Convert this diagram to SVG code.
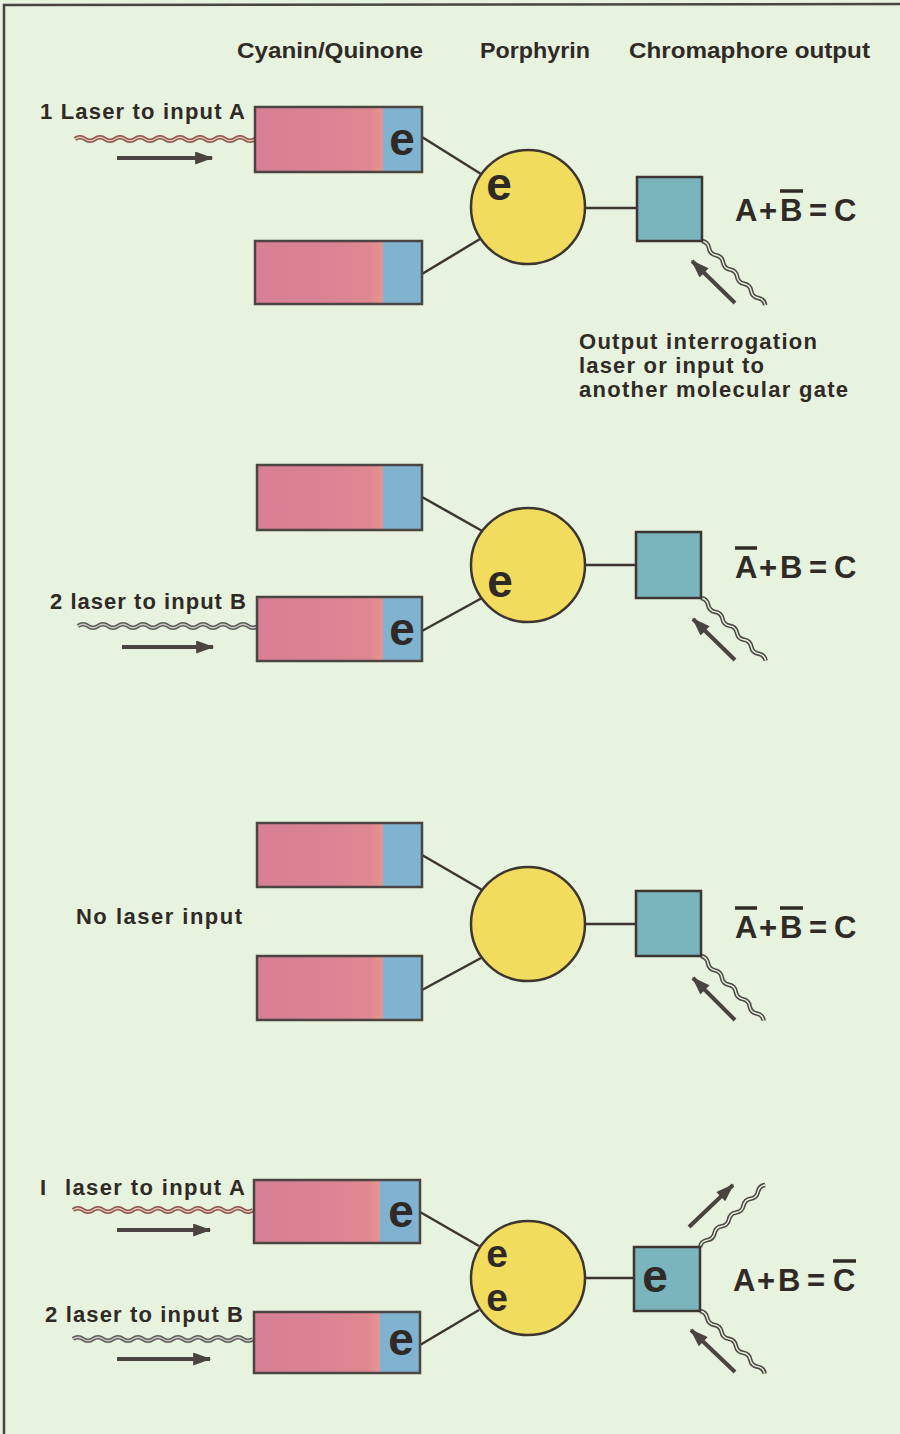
<svg xmlns="http://www.w3.org/2000/svg" xmlns:xlink="http://www.w3.org/1999/xlink" width="900" height="1434" viewBox="0 0 900 1434">
<style>
.t{font-family:"Liberation Sans",Arial,sans-serif;font-weight:bold;fill:#2f2a25}
.hdr{font-size:22px}
.lbl{font-size:22px}
.eq{font-size:31px}
.e{font-size:46px;text-anchor:middle}
.e2{font-size:39px;text-anchor:middle}
.frame{fill:none;stroke:#4a4541;stroke-width:2.5}
.pink{fill:url(#pinkg)}
.blue{fill:#80b3d0}
.circ{fill:#f1dc5e;stroke:#3d3630;stroke-width:2.5}
.sq{fill:#7ab5bd;stroke:#3d3630;stroke-width:2.5}
.ln{stroke:#3d3630;stroke-width:2.5;fill:none}
.arr{stroke:#4a4440;stroke-width:4;fill:none;marker-end:url(#ah)}
.ov{stroke:#2f2a25;stroke-width:3.5}
.wo-red{fill:none;stroke:#8c544b;stroke-width:4.5}
.wi-red{fill:none;stroke:#e3c3b6;stroke-width:1.3}
.wo-grey{fill:none;stroke:#5f5d5a;stroke-width:4.5}
.wi-grey{fill:none;stroke:#c9c9c2;stroke-width:1.3}
.wo-dark{fill:none;stroke:#4d4844;stroke-width:4.5}
.wi-dark{fill:none;stroke:#e7f2df;stroke-width:1.4}
</style>
<defs>
<linearGradient id="pinkg" x1="0" y1="0" x2="1" y2="0">
<stop offset="0" stop-color="#d87f93"/>
<stop offset="0.6" stop-color="#db8394"/>
<stop offset="0.9" stop-color="#e08891"/>
<stop offset="1" stop-color="#e49592"/>
</linearGradient>
<marker id="ah" viewBox="0 0 14 10" markerUnits="userSpaceOnUse" markerWidth="28" markerHeight="13" refX="13" refY="5" orient="auto">
<path d="M0,0 L14,5 L0,10 z" fill="#4a4440"/>
</marker>
<path id="wL" d="M0,0 q5,-3.5 10,0 t10,0 t10,0 t10,0 t10,0 t10,0 t10,0 t10,0 t10,0 t10,0 t10,0 t10,0 t10,0 t10,0 t10,0 t10,0 t10,0 t10,0"/>
<path id="wS" d="M0,0 q5,-3.5 10,0 t10,0 t10,0 t10,0 t10,0 t10,0 t10,0 t10,0 t10,0"/>
</defs>
<rect x="0" y="0" width="900" height="1434" fill="#e7f2df"/>
<path class="frame" d="M4,1434 L4,5 L900,4"/>

<g id="headers">
<text class="t hdr" x="237" y="58" textLength="186" lengthAdjust="spacingAndGlyphs">Cyanin/Quinone</text>
<text class="t hdr" x="480" y="58" textLength="110" lengthAdjust="spacingAndGlyphs">Porphyrin</text>
<text class="t hdr" x="629" y="58" textLength="241" lengthAdjust="spacingAndGlyphs">Chromaphore output</text>
</g>

<g id="connectors">
<!-- panel 1 -->
<use xlink:href="#wL" href="#wL" class="wo-red" transform="translate(75,139)"/>
<use xlink:href="#wL" href="#wL" class="wi-red" transform="translate(75,139)"/>
<line class="arr" x1="117" y1="158" x2="212" y2="158"/>
<line class="ln" x1="422" y1="137" x2="481" y2="174"/>
<line class="ln" x1="422" y1="274" x2="480" y2="239"/>
<line class="ln" x1="585" y1="208" x2="637" y2="208"/>
<use xlink:href="#wS" href="#wS" class="wo-dark" transform="translate(702,241) rotate(45.4)"/>
<use xlink:href="#wS" href="#wS" class="wi-dark" transform="translate(702,241) rotate(45.4)"/>
<line class="arr" x1="735" y1="303" x2="692" y2="261"/>
<!-- panel 2 -->
<use xlink:href="#wL" href="#wL" class="wo-grey" transform="translate(78,626)"/>
<use xlink:href="#wL" href="#wL" class="wi-grey" transform="translate(78,626)"/>
<line class="arr" x1="122" y1="647" x2="213" y2="647"/>
<line class="ln" x1="422" y1="497" x2="484" y2="532"/>
<line class="ln" x1="422" y1="631" x2="482" y2="598"/>
<line class="ln" x1="585" y1="565" x2="636" y2="565"/>
<use xlink:href="#wS" href="#wS" class="wo-dark" transform="translate(701,598) rotate(44.1)"/>
<use xlink:href="#wS" href="#wS" class="wi-dark" transform="translate(701,598) rotate(44.1)"/>
<line class="arr" x1="735" y1="660" x2="693" y2="619"/>
<!-- panel 3 -->
<line class="ln" x1="422" y1="855" x2="484" y2="891"/>
<line class="ln" x1="422" y1="990" x2="481" y2="958"/>
<line class="ln" x1="585" y1="924" x2="636" y2="924"/>
<use xlink:href="#wS" href="#wS" class="wo-dark" transform="translate(701,956) rotate(45.9)"/>
<use xlink:href="#wS" href="#wS" class="wi-dark" transform="translate(701,956) rotate(45.9)"/>
<line class="arr" x1="735" y1="1020" x2="693" y2="978"/>
<!-- panel 4 -->
<use xlink:href="#wL" href="#wL" class="wo-red" transform="translate(73,1210)"/>
<use xlink:href="#wL" href="#wL" class="wi-red" transform="translate(73,1210)"/>
<line class="arr" x1="117" y1="1230" x2="210" y2="1230"/>
<use xlink:href="#wL" href="#wL" class="wo-grey" transform="translate(73,1339)"/>
<use xlink:href="#wL" href="#wL" class="wi-grey" transform="translate(73,1339)"/>
<line class="arr" x1="117" y1="1359" x2="210" y2="1359"/>
<line class="ln" x1="420" y1="1212" x2="479" y2="1246"/>
<line class="ln" x1="420" y1="1345" x2="479" y2="1310"/>
<line class="ln" x1="585" y1="1278" x2="634" y2="1278"/>
<use xlink:href="#wS" href="#wS" class="wo-dark" transform="translate(700,1247) rotate(-43.6)"/>
<use xlink:href="#wS" href="#wS" class="wi-dark" transform="translate(700,1247) rotate(-43.6)"/>
<line class="arr" x1="689" y1="1227" x2="733" y2="1185"/>
<use xlink:href="#wS" href="#wS" class="wo-dark" transform="translate(700,1311) rotate(44.1)"/>
<use xlink:href="#wS" href="#wS" class="wi-dark" transform="translate(700,1311) rotate(44.1)"/>
<line class="arr" x1="735" y1="1372" x2="691" y2="1330"/>
</g>

<!-- Panel 1 -->
<g id="p1-label">
<text class="t lbl" x="40" y="119" textLength="205">1 Laser to input A</text>
</g>
<g id="p1-boxA">
<rect class="pink" x="255" y="107" width="128" height="65"/>
<rect class="blue" x="383" y="107" width="39" height="65"/>
<rect class="frame" x="255" y="107" width="167" height="65"/>
<text class="t e" x="402" y="155">e</text>
</g>
<g id="p1-boxB">
<rect class="pink" x="255" y="241" width="128" height="63"/>
<rect class="blue" x="383" y="241" width="39" height="63"/>
<rect class="frame" x="255" y="241" width="167" height="63"/>
</g>
<g id="p1-porphyrin">
<circle class="circ" cx="528" cy="207" r="57"/>
<text class="t e" x="499" y="200">e</text>
</g>
<g id="p1-output">
<rect class="sq" x="637" y="177" width="65" height="64"/>
</g>
<g id="p1-eq">
<text class="t eq" y="221"><tspan x="735">A</tspan><tspan x="759">+</tspan><tspan x="780">B</tspan><tspan x="809">=</tspan><tspan x="834">C</tspan></text>
<line class="ov" x1="780" y1="191" x2="803" y2="191"/>
</g>
<g id="p1-note">
<text class="t lbl" x="579" y="349" textLength="238">Output interrogation</text>
<text class="t lbl" x="579" y="373" textLength="185">laser or input to</text>
<text class="t lbl" x="579" y="397" textLength="269">another molecular gate</text>
</g>

<!-- Panel 2 -->
<g id="p2-label">
<text class="t lbl" x="50" y="609" textLength="196">2 laser to input B</text>
</g>
<g id="p2-boxA">
<rect class="pink" x="257" y="465" width="126" height="65"/>
<rect class="blue" x="383" y="465" width="39" height="65"/>
<rect class="frame" x="257" y="465" width="165" height="65"/>
</g>
<g id="p2-boxB">
<rect class="pink" x="257" y="597" width="126" height="64"/>
<rect class="blue" x="383" y="597" width="39" height="64"/>
<rect class="frame" x="257" y="597" width="165" height="64"/>
<text class="t e" x="402" y="645">e</text>
</g>
<g id="p2-porphyrin">
<circle class="circ" cx="528" cy="565" r="57"/>
<text class="t e" x="500" y="597">e</text>
</g>
<g id="p2-output">
<rect class="sq" x="636" y="532" width="65" height="66"/>
</g>
<g id="p2-eq">
<text class="t eq" y="578"><tspan x="735">A</tspan><tspan x="759">+</tspan><tspan x="780">B</tspan><tspan x="809">=</tspan><tspan x="834">C</tspan></text>
<line class="ov" x1="735" y1="548" x2="757" y2="548"/>
</g>

<!-- Panel 3 -->
<g id="p3-label">
<text class="t lbl" x="76" y="924" textLength="166">No laser input</text>
</g>
<g id="p3-boxA">
<rect class="pink" x="257" y="823" width="126" height="64"/>
<rect class="blue" x="383" y="823" width="39" height="64"/>
<rect class="frame" x="257" y="823" width="165" height="64"/>
</g>
<g id="p3-boxB">
<rect class="pink" x="257" y="956" width="126" height="64"/>
<rect class="blue" x="383" y="956" width="39" height="64"/>
<rect class="frame" x="257" y="956" width="165" height="64"/>
</g>
<g id="p3-porphyrin">
<circle class="circ" cx="528" cy="924" r="57"/>
</g>
<g id="p3-output">
<rect class="sq" x="636" y="891" width="65" height="65"/>
</g>
<g id="p3-eq">
<text class="t eq" y="938"><tspan x="735">A</tspan><tspan x="759">+</tspan><tspan x="780">B</tspan><tspan x="809">=</tspan><tspan x="834">C</tspan></text>
<line class="ov" x1="735" y1="908" x2="757" y2="908"/>
<line class="ov" x1="780" y1="908" x2="803" y2="908"/>
</g>

<!-- Panel 4 -->
<g id="p4-labelA">
<text class="t lbl" y="1195"><tspan x="40">I</tspan><tspan x="65" textLength="180">laser to input A</tspan></text>
</g>
<g id="p4-labelB">
<text class="t lbl" x="45" y="1322" textLength="198">2 laser to input B</text>
</g>
<g id="p4-boxA">
<rect class="pink" x="254" y="1180" width="126" height="63"/>
<rect class="blue" x="380" y="1180" width="40" height="63"/>
<rect class="frame" x="254" y="1180" width="166" height="63"/>
<text class="t e" x="401" y="1227">e</text>
</g>
<g id="p4-boxB">
<rect class="pink" x="254" y="1312" width="126" height="61"/>
<rect class="blue" x="380" y="1312" width="40" height="61"/>
<rect class="frame" x="254" y="1312" width="166" height="61"/>
<text class="t e" x="401" y="1355">e</text>
</g>
<g id="p4-porphyrin">
<circle class="circ" cx="528" cy="1278" r="57"/>
<text class="t e2" x="497" y="1267">e</text>
<text class="t e2" x="497" y="1311">e</text>
</g>
<g id="p4-output">
<rect class="sq" x="634" y="1247" width="66" height="64"/>
<text class="t e" x="655" y="1292">e</text>
</g>
<g id="p4-eq">
<text class="t eq" y="1291"><tspan x="733">A</tspan><tspan x="757">+</tspan><tspan x="778">B</tspan><tspan x="807">=</tspan><tspan x="833">C</tspan></text>
<line class="ov" x1="833" y1="1261" x2="856" y2="1261"/>
</g>
</svg>
